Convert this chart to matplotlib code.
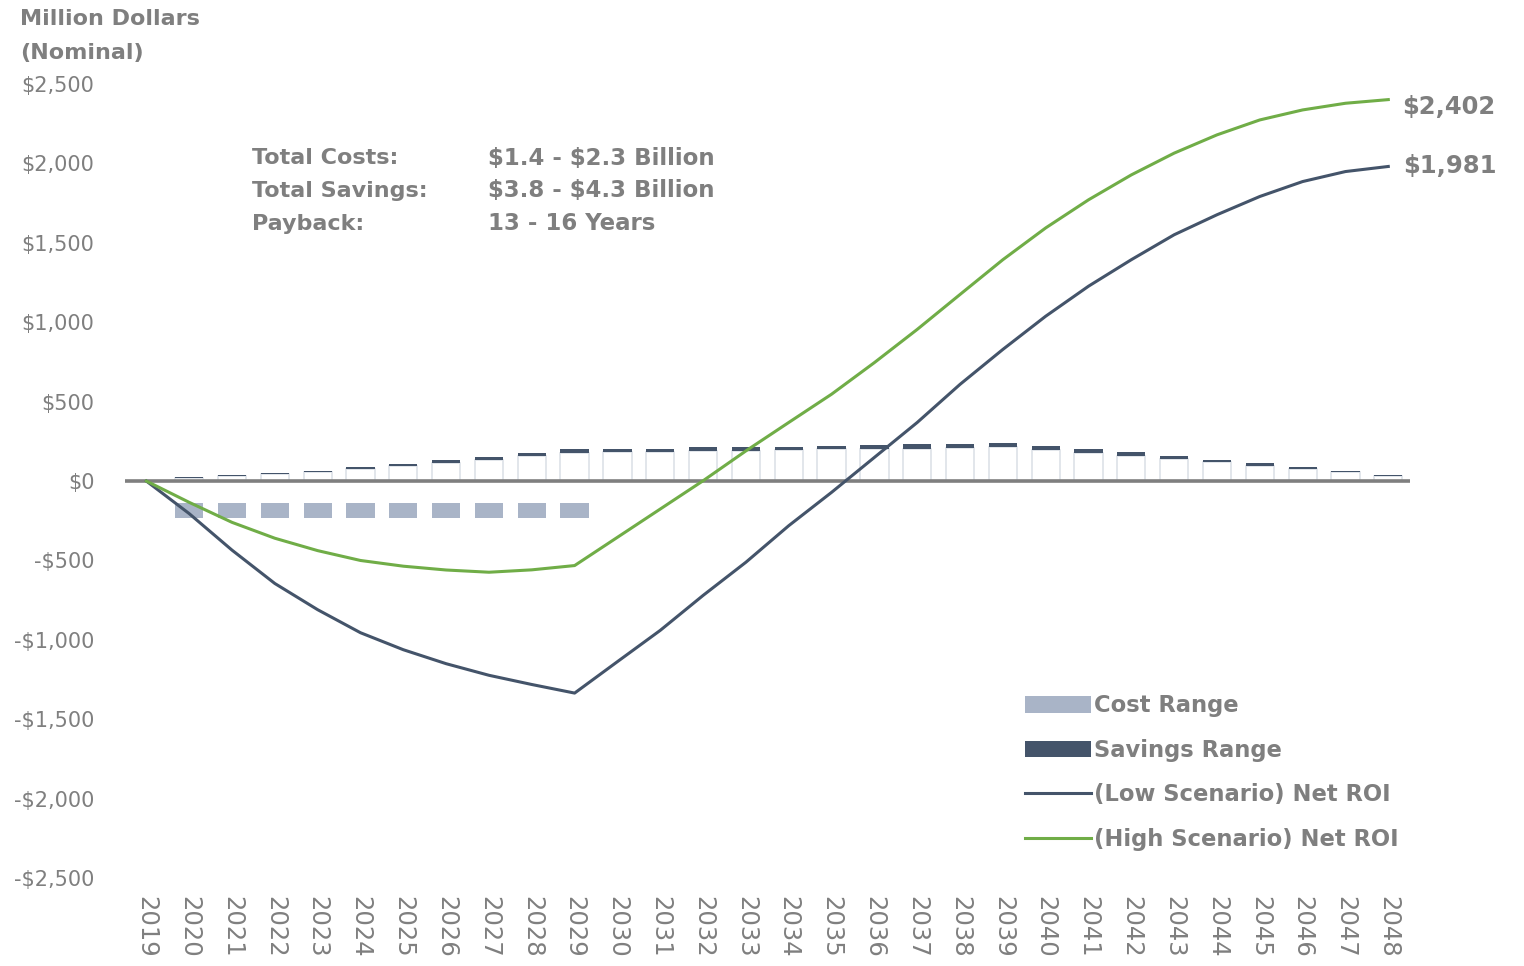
"""
plot.py
Net ROI chart: yearly cost / savings ranges with cumulative net ROI lines.
"""

import matplotlib
matplotlib.use('Agg')
import matplotlib.pyplot as plt
from matplotlib.patches import Patch
from matplotlib.lines import Line2D

# ── Data ───────────────────────────────────────────────
years = list(range(2019, 2049))

cost_years = list(range(2020, 2030))
cost_low   = [-140] * 10
cost_high  = [-230] * 10

save_years = list(range(2020, 2049))
save_low  = [18, 33, 45, 56, 75, 96, 113, 134, 155, 176,
             182, 186, 188, 188, 197, 199, 201, 205, 209, 213,
             196, 174, 159, 136, 117, 94, 75, 60, 35]
save_high = [23, 38, 50, 61, 86, 107, 132, 149, 176, 201,
             201, 201, 212, 212, 216, 222, 226, 232, 234, 239,
             218, 201, 180, 159, 134, 113, 90, 63, 38]

roi_low  = [0, -205, -435, -645, -810, -955, -1062, -1150, -1223, -1281,
            -1335, -1137, -940, -720, -511, -281, -71, 149, 369, 609,
            829, 1038, 1227, 1394, 1551, 1677, 1792, 1886, 1949, 1981]
roi_high = [0, -134, -260, -360, -438, -500, -536, -560, -574, -559,
            -532, -354, -176, 2, 190, 369, 547, 746, 955, 1175,
            1394, 1594, 1771, 1928, 2065, 2180, 2274, 2337, 2379, 2402]

y_ticks = [-2500, -2000, -1500, -1000, -500, 0, 500, 1000, 1500, 2000, 2500]

# ── Style ──────────────────────────────────────────────
GREY   = '#7f7f7f'
NAVY   = '#44546a'
COST   = '#a9b4c7'
GREEN  = '#70ad47'
BOXEDG = '#dde1e8'
# ───────────────────────────────────────────────────────

fig = plt.figure(figsize=(15.24, 9.66), dpi=100)
ax = fig.add_axes([0.082, 0.091, 0.843, 0.822])

bar_w = 0.66

# white boxes up to the low savings value, dark range on top
ax.bar(save_years, save_low, width=bar_w, color='white',
       edgecolor=BOXEDG, linewidth=1.2, zorder=1)
ax.bar(save_years, [h - l for h, l in zip(save_high, save_low)],
       bottom=save_low, width=bar_w, color=NAVY, linewidth=0, zorder=2)

# cost range bars below zero
ax.bar(cost_years, [h - l for h, l in zip(cost_high, cost_low)],
       bottom=cost_low, width=bar_w, color=COST, linewidth=0, zorder=2)

ax.axhline(0, color=GREY, linewidth=2.6, zorder=3)

ax.plot(years, roi_low, color=NAVY, linewidth=2.2, zorder=4)
ax.plot(years, roi_high, color=GREEN, linewidth=2.2, zorder=4)

ax.set_xlim(2018.5, 2048.5)
ax.set_ylim(-2500, 2500)

ax.set_yticks(y_ticks)
ax.set_yticklabels([('-$' if v < 0 else '$') + f'{abs(v):,}' for v in y_ticks],
                   fontsize=15, color=GREY)
ax.set_xticks(years)
ax.set_xticklabels([str(y) for y in years], rotation=270,
                   fontsize=17.5, color=GREY)
ax.tick_params(axis='y', length=0, pad=22)
ax.tick_params(axis='x', length=0, pad=13)
for s in ax.spines.values():
    s.set_visible(False)

# header
fig.text(20 / 1524, 1 - 19 / 966, 'Million Dollars', fontsize=16, color=GREY,
         weight='bold', va='center')
fig.text(20 / 1524, 1 - 53 / 966, '(Nominal)', fontsize=16, color=GREY,
         weight='bold', va='center')

# summary box
notes = [('Total Costs:', r'\$1.4 - \$2.3 Billion'),
         ('Total Savings:', r'\$3.8 - \$4.3 Billion'),
         ('Payback:', '13 - 16 Years')]
for i, (k, v) in enumerate(notes):
    yy = 1 - (158 + 33 * i) / 966
    fig.text(252 / 1524, yy, k, fontsize=16, color=GREY,
             weight='bold', va='center')
    fig.text(488 / 1524, yy, v, fontsize=16.5, color=GREY,
             weight='bold', va='center')

# end-of-line labels
ax.annotate(rf'\${roi_high[-1]:,}', (years[-1], roi_high[-1]), xytext=(10, -5),
            textcoords='offset points', fontsize=17.5, color=GREY,
            weight='bold', va='center')
ax.annotate(rf'\${roi_low[-1]:,}', (years[-1], roi_low[-1]), xytext=(11, 0),
            textcoords='offset points', fontsize=17.5, color=GREY,
            weight='bold', va='center')

handles = [Patch(facecolor=COST, edgecolor='none'),
           Patch(facecolor=NAVY, edgecolor='none'),
           Line2D([], [], color=NAVY, linewidth=2.2),
           Line2D([], [], color=GREEN, linewidth=2.2)]
labels = ['Cost Range', 'Savings Range',
          '(Low Scenario) Net ROI', '(High Scenario) Net ROI']
leg = ax.legend(handles, labels, loc='upper left',
                bbox_to_anchor=(1014 / 1524, 1 - 683 / 966),
                bbox_transform=fig.transFigure, frameon=False,
                prop={'size': 16.3, 'weight': 'bold'},
                handlelength=2.9, handleheight=0.75, handletextpad=0.15,
                labelspacing=0.95, borderpad=0)
for t in leg.get_texts():
    t.set_color(GREY)

fig.savefig('out.png', dpi=100)
